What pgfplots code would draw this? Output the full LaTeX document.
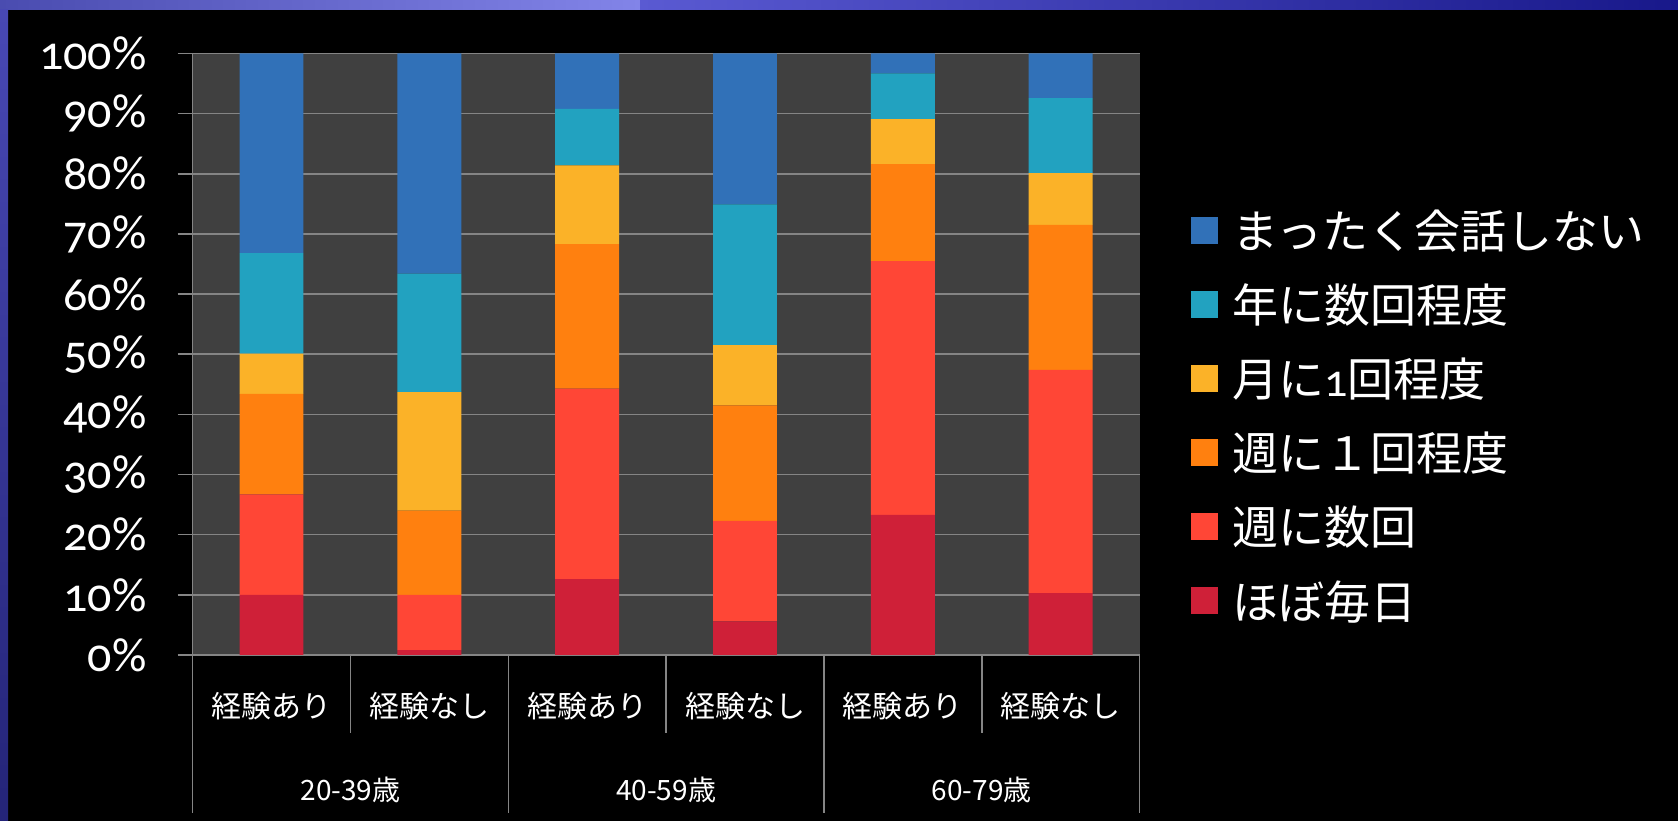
\documentclass[border=0pt]{standalone}
\usepackage{fontspec}
\usepackage{pgfplots}
\pgfplotsset{compat=1.18}
\usepackage{pgfplotstable}
\setmainfont{Noto Sans CJK JP}
\newfontfamily\oldnum[Numbers=OldStyle]{Carlito}

\definecolor{cBlue}{HTML}{3171B8}
\definecolor{cTeal}{HTML}{22A2C0}
\definecolor{cGold}{HTML}{FBB228}
\definecolor{cOrange}{HTML}{FF800F}
\definecolor{cRed}{HTML}{FF4636}
\definecolor{cCrimson}{HTML}{CF2038}
\definecolor{plotbg}{HTML}{404040}
\definecolor{gridc}{HTML}{858585}

\pgfplotstableread{
x d1 d2 d3 d4 d5 d6
0 10.0 16.7 16.7 6.7 16.7 33.2
1 0.8 9.2 14.0 19.7 19.7 36.6
2 12.6 31.7 24.0 13.1 9.4 9.2
3 5.6 16.7 19.2 10.0 23.4 25.1
4 23.3 42.2 16.1 7.5 7.6 3.3
5 10.3 37.1 24.1 8.6 12.5 7.4
}\datatable

\begin{document}
\begin{tikzpicture}[x=1pt,y=1pt]
\fill[black] (0,0) rectangle (1678,821);
\shade[left color={rgb,255:red,74;green,76;blue,176}, right color={rgb,255:red,130;green,132;blue,232}] (0,811) rectangle (640,821);
\shade[left color={rgb,255:red,90;green,90;blue,210}, right color={rgb,255:red,24;green,24;blue,138}] (640,811) rectangle (1678,821);
\shade[top color={rgb,255:red,72;green,72;blue,180}, bottom color={rgb,255:red,36;green,36;blue,120}] (0,0) rectangle (8,811);
\begin{axis}[
  at={(192.6pt,166pt)}, anchor=south west,
  width=947pt, height=601.5pt, scale only axis,
  xmin=-0.5, xmax=5.5, ymin=0, ymax=100,
  ybar stacked, bar width=0.405,
  clip=false,
  axis background/.style={fill=plotbg},
  axis x line*=bottom, axis y line*=left,
  axis line style={gridc, line width=1.5pt},
  ymajorgrids, grid style={gridc, line width=1.5pt},
  tick align=outside, major tick length=15pt,
  ytick={0,10,...,100},
  yticklabel={\oldnum\pgfmathprintnumber[assume math mode=true]{\tick}\%},
  y tick style={gridc, line width=1.5pt},
  yticklabel style={font=\oldnum\fontsize{48}{48}\selectfont, text=white, inner sep=0pt, xshift=-31pt},
  xtick={0,1,2,3,4,5},
  xticklabels={経験あり,経験なし,経験あり,経験なし,経験あり,経験なし},
  x tick style={draw=none},
  xticklabel style={font=\fontsize{30}{30}\selectfont, text=white, anchor=center, yshift=-36pt},
  legend image code/.code={\fill[#1] (0pt,-14pt) rectangle (27pt,13pt);},
  reverse legend,
  legend cell align=left,
  legend style={draw=none, fill=none, text=white, font=\fontsize{46}{46}\selectfont,
    at={(1.0511,0.399)}, anchor=west, row sep=34pt,
    nodes={inner sep=0pt},
    /tikz/every odd column/.append style={column sep=14pt}},
]
\addplot[fill=cCrimson, draw=none] table[x=x,y=d1]{\datatable};
\addplot[fill=cRed, draw=none] table[x=x,y=d2]{\datatable};
\addplot[fill=cOrange, draw=none] table[x=x,y=d3]{\datatable};
\addplot[fill=cGold, draw=none] table[x=x,y=d4]{\datatable};
\addplot[fill=cTeal, draw=none] table[x=x,y=d5]{\datatable};
\addplot[fill=cBlue, draw=none] table[x=x,y=d6]{\datatable};
\legend{ほぼ毎日,週に数回,週に１回程度,月に{\oldnum 1}回程度,年に数回程度,まったく会話しない}
\draw[gridc, line width=1.5pt] (axis cs:-0.5,0) -- ++(0pt,-158pt);
\draw[gridc, line width=1.5pt] (axis cs:1.5,0) -- ++(0pt,-158pt);
\draw[gridc, line width=1.5pt] (axis cs:3.5,0) -- ++(0pt,-158pt);
\draw[gridc, line width=1.5pt] (axis cs:5.5,0) -- ++(0pt,-158pt);
\draw[gridc, line width=1.5pt] (axis cs:0.5,0) -- ++(0pt,-78pt);
\draw[gridc, line width=1.5pt] (axis cs:2.5,0) -- ++(0pt,-78pt);
\draw[gridc, line width=1.5pt] (axis cs:4.5,0) -- ++(0pt,-78pt);
\node[text=white, font=\fontsize{28}{28}\selectfont] at (axis cs:0.5,0) [yshift=-135pt] {20-39歳};
\node[text=white, font=\fontsize{28}{28}\selectfont] at (axis cs:2.5,0) [yshift=-135pt] {40-59歳};
\node[text=white, font=\fontsize{28}{28}\selectfont] at (axis cs:4.5,0) [yshift=-135pt] {60-79歳};
\end{axis}
\end{tikzpicture}
\end{document}
